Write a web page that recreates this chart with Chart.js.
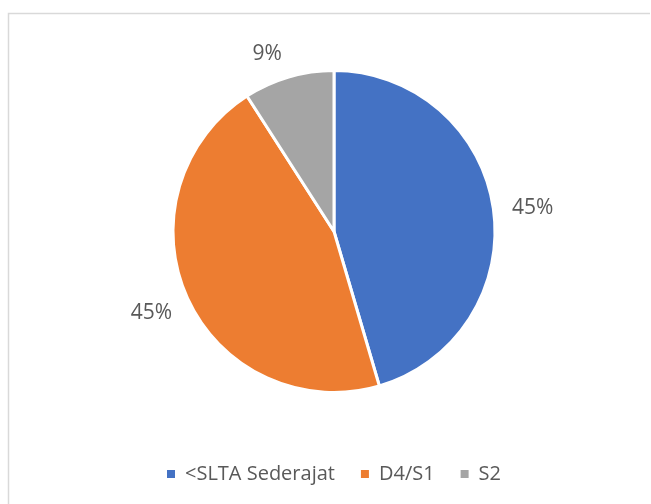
<!DOCTYPE html>
<html>
<head>
<meta charset="utf-8">
<script src="https://cdn.jsdelivr.net/npm/chart.js@4.4.0/dist/chart.umd.min.js"></script>
<style>
  html, body { margin: 0; padding: 0; background: #fff; }
  #wrap { width: 651px; height: 504px; }
</style>
</head>
<body>
<div id="wrap"><canvas id="pieChart" width="651" height="504"></canvas></div>
<script>
const categories = ['<SLTA Sederajat', 'D4/S1', 'S2'];
const counts = [5, 5, 1];
const sliceColors = ['#4472C4', '#ED7D31', '#A5A5A5'];

const total = counts.reduce((a, b) => a + b, 0);
const textColor = '#595959';

// light grey frame like the Excel chart area
const framePlugin = {
  id: 'frame',
  beforeDraw(chart) {
    const c = chart.ctx;
    c.save();
    c.fillStyle = '#fff';
    c.fillRect(0, 0, chart.width, chart.height);
    c.strokeStyle = '#d9d9d9';
    c.lineWidth = 1.5;
    c.beginPath();
    c.moveTo(8.5, chart.height + 5);
    c.lineTo(8.5, 13.5);
    c.lineTo(650, 13.5);
    c.stroke();
    c.restore();
  }
};

// percent labels outside each slice
const outsideLabels = {
  id: 'outsideLabels',
  afterDatasetsDraw(chart) {
    const c = chart.ctx;
    const meta = chart.getDatasetMeta(0);
    c.save();
    c.font = '21px "Open Sans"';
    c.fillStyle = textColor;
    c.textAlign = 'center';
    c.textBaseline = 'middle';
    meta.data.forEach((arc, i) => {
      const p = arc.getProps(['x', 'y', 'startAngle', 'endAngle', 'outerRadius'], true);
      const mid = (p.startAngle + p.endAngle) / 2;
      const cos = Math.cos(mid), sin = Math.sin(mid);
      const txt = Math.round(counts[i] / total * 100) + '%';
      const w = c.measureText(txt).width;
      const d = p.outerRadius + 19;
      // small slice at the top sits a bit further left in the original
      const shift = Math.abs(sin) > 0.9 ? -12 : 0;
      const x = p.x + cos * d + cos * w / 2 + shift;
      const y = p.y + sin * d + sin * 8 + 3;
      c.fillText(txt, x, y);
    });
    c.restore();
  }
};

new Chart(document.getElementById('pieChart'), {
  type: 'pie',
  data: {
    labels: categories,
    datasets: [{
      data: counts,
      backgroundColor: sliceColors,
      borderColor: '#ffffff',
      borderWidth: 3,
      radius: 161
    }]
  },
  options: {
    responsive: false,
    animation: false,
    layout: {
      padding: { left: 17, right: 0, top: 25, bottom: 10 }
    },
    plugins: {
      tooltip: { enabled: false },
      legend: {
        position: 'bottom',
        labels: {
          boxWidth: 8,
          boxHeight: 8,
          padding: 26,
          color: textColor,
          font: { family: 'Open Sans', size: 20 },
          generateLabels(chart) {
            return Chart.overrides.pie.plugins.legend.labels.generateLabels(chart)
              .map(item => Object.assign(item, { lineWidth: 0, strokeStyle: item.fillStyle }));
          }
        }
      }
    }
  },
  plugins: [framePlugin, outsideLabels]
});
</script>
</body>
</html>
